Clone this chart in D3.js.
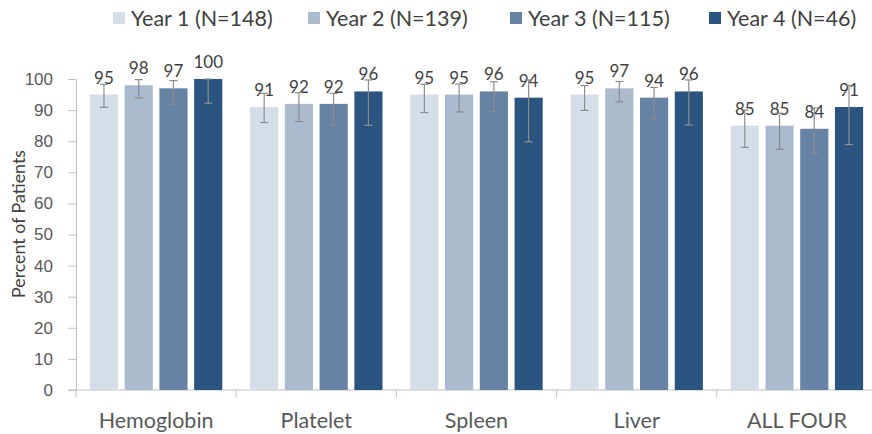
<!DOCTYPE html>
<style>
body { margin: 0; background: #fff; }
svg { font-family: Lato, "Open Sans", sans-serif; }
.axis .domain { stroke: #bfbfbf; }
.axis line { stroke: #bfbfbf; }
.axis text { fill: #595959; }
</style>
<svg width="872" height="434"></svg>
<script src="https://d3js.org/d3.v7.min.js"></script>
<script>

var categories = ["Hemoglobin", "Platelet", "Spleen", "Liver", "ALL FOUR"];
var seriesNames = ["Year 1 (N=148)", "Year 2 (N=139)", "Year 3 (N=115)", "Year 4 (N=46)"];
var colors = ["#d5dee8", "#aabbd0", "#6783a3", "#2b5580"];

// percent per category, one array per year
var year1 = [95, 91, 95, 95, 85];
var year2 = [98, 92, 95, 97, 85];
var year3 = [97, 92, 96, 94, 84];
var year4 = [100, 96, 94, 96, 91];

// error bar ends (low, high)
var year1Err = [[90.9, 98.3], [86, 95.4], [89.2, 98.3], [89.9, 97.9], [78, 90]];
var year2Err = [[93.9, 99.8], [86.3, 95.6], [89.4, 98.4], [92.7, 99.2], [77.4, 89]];
var year3Err = [[91.9, 99.5], [85.3, 95.4], [89.5, 99.1], [87.2, 97.3], [76.1, 90.7]];
var year4Err = [[92.2, 100], [85.1, 99.7], [79.8, 99.7], [85.2, 99.7], [78.9, 98]];

var yTicks = [0, 10, 20, 30, 40, 50, 60, 70, 80, 90, 100];

var values = [year1, year2, year3, year4];
var errs = [year1Err, year2Err, year3Err, year4Err];

var svg = d3.select("svg");

var x0 = d3.scaleBand().domain(categories).range([76, 877]).padding(0);
var x1 = d3.scaleBand().domain(seriesNames).range([0, x0.bandwidth()])
    .paddingInner(0.19).paddingOuter(0.4);
var y = d3.scaleLinear().domain([0, 100]).range([390, 79]);

var data = [];
categories.forEach(function(c, i) {
  seriesNames.forEach(function(s, j) {
    data.push({cat: c, s: s, j: j, v: values[j][i], lo: errs[j][i][0], hi: errs[j][i][1]});
  });
});

// y axis
var yAxis = svg.append("g")
    .attr("class", "axis")
    .attr("transform", "translate(76,0)")
    .call(d3.axisLeft(y).tickValues(yTicks).tickSize(8).tickSizeOuter(0).tickPadding(15));
yAxis.selectAll("text").attr("font-size", 17);

// x axis line + category separators
var xg = svg.append("g").attr("class", "axis");
xg.append("line")
    .attr("x1", 68).attr("x2", 872)
    .attr("y1", y(0)).attr("y2", y(0));
xg.selectAll(".sep")
  .data(categories)
  .enter().append("line")
    .attr("x1", function(d) { return x0(d); })
    .attr("x2", function(d) { return x0(d); })
    .attr("y1", y(0)).attr("y2", y(0) + 7);
xg.selectAll(".cat")
  .data(categories)
  .enter().append("text")
    .attr("x", function(d) { return x0(d) + x0.bandwidth() / 2; })
    .attr("y", 428)
    .attr("text-anchor", "middle")
    .attr("font-size", 21.5)
    .attr("fill", "#404040")
    .text(function(d) { return d; });

// bars
svg.append("g").selectAll("rect")
  .data(data)
  .enter().append("rect")
    .attr("x", function(d) { return x0(d.cat) + x1(d.s); })
    .attr("y", function(d) { return y(d.v); })
    .attr("width", x1.bandwidth())
    .attr("height", function(d) { return y(0) - y(d.v); })
    .attr("fill", function(d) { return colors[d.j]; });

// value labels
svg.append("g").selectAll("text")
  .data(data)
  .enter().append("text")
    .attr("x", function(d) { return x0(d.cat) + x1(d.s) + x1.bandwidth() / 2; })
    .attr("y", function(d) { return y(d.v) - 11; })
    .attr("text-anchor", "middle")
    .attr("font-size", 17)
    .attr("fill", "#404040")
    .text(function(d) { return d.v; });

// error bars
var eb = svg.append("g").attr("stroke", "#8c8c8c").attr("stroke-width", 1.2)
  .selectAll("g")
  .data(data)
  .enter().append("g")
    .attr("transform", function(d) { return "translate(" + (x0(d.cat) + x1(d.s) + x1.bandwidth() / 2) + ",0)"; });
eb.append("line")
    .attr("y1", function(d) { return y(d.lo); })
    .attr("y2", function(d) { return y(d.hi); });
eb.append("line")
    .attr("x1", -4).attr("x2", 4)
    .attr("y1", function(d) { return y(d.lo); })
    .attr("y2", function(d) { return y(d.lo); });
eb.append("line")
    .attr("x1", -4).attr("x2", 4)
    .attr("y1", function(d) { return y(d.hi); })
    .attr("y2", function(d) { return y(d.hi); });

// y title, sized so it spans about 148px like the original
var title = svg.append("text")
    .attr("transform", "translate(25,224) rotate(-90)")
    .attr("text-anchor", "middle")
    .attr("font-size", 18)
    .attr("fill", "#404040")
    .text("Percent of Patients");
var tl = title.node().getComputedTextLength();
if (tl > 0) title.attr("font-size", 18 * 148 / tl);

// legend
var legendX = [113, 308, 510, 709];
var legend = svg.append("g").selectAll("g")
  .data(seriesNames)
  .enter().append("g")
    .attr("transform", function(d, i) { return "translate(" + legendX[i] + ",12)"; });
legend.append("rect")
    .attr("width", 12).attr("height", 12)
    .attr("fill", function(d, i) { return colors[i]; });
legend.append("text")
    .attr("x", 18)
    .attr("y", 6)
    .attr("dy", "0.35em")
    .attr("font-size", 21.5)
    .attr("fill", "#404040")
    .text(function(d) { return d; });

</script>
